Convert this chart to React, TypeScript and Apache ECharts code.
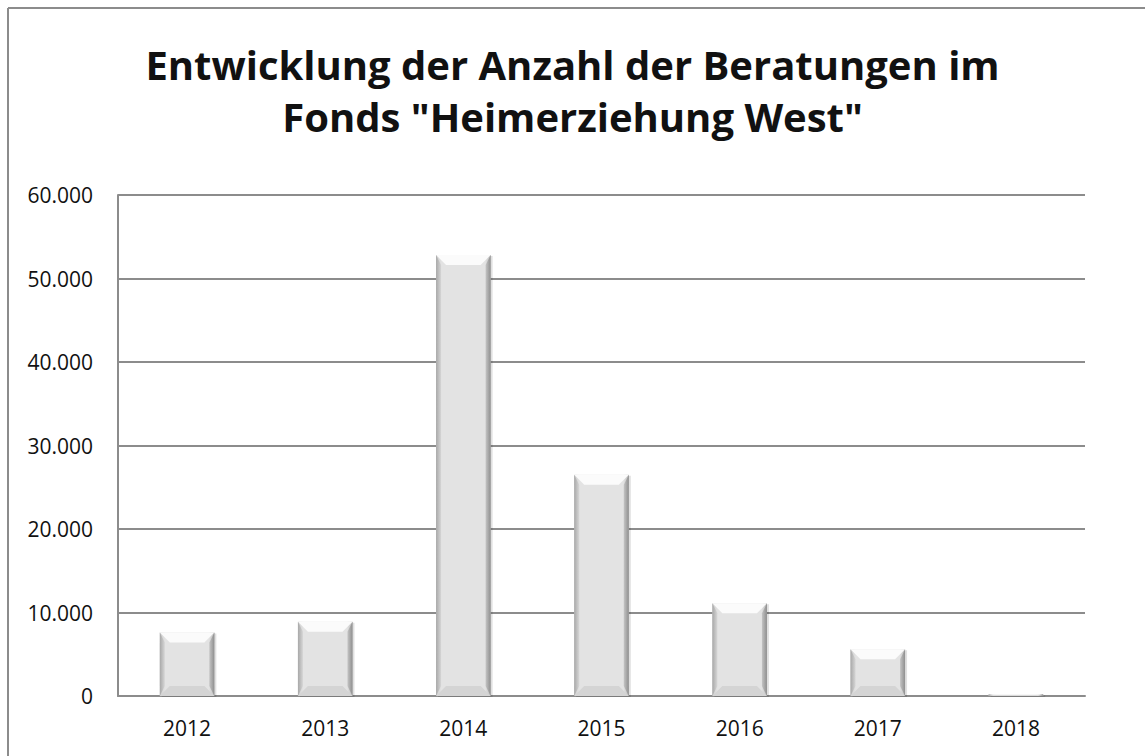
import React, { useEffect, useRef } from "react";
import * as echarts from "echarts";

const years = ["2012", "2013", "2014", "2015", "2016", "2017", "2018"];
const beratungen = [7600, 8900, 52800, 26500, 11100, 5600, 200];
const titleText = 'Entwicklung der Anzahl der Beratungen im\nFonds "Heimerziehung West"';

function fmt(v: number): string {
  return v === 0 ? "0" : (v / 1000).toFixed(0) + ".000";
}

export default function App() {
  const ref = useRef<HTMLDivElement>(null);
  useEffect(() => {
    if (!ref.current) return;
    const chart = echarts.init(ref.current, undefined, { renderer: "svg" });
    chart.setOption({
      animation: false,
      backgroundColor: "#ffffff",
      title: {
        text: titleText,
        left: "center",
        top: 33,
        textStyle: {
          fontFamily: "Open Sans",
          fontWeight: "bold",
          fontSize: 40,
          lineHeight: 52,
          color: "#111111",
        },
      },
      graphic: [
        {
          type: "line",
          shape: { x1: 8, y1: 8, x2: 1145, y2: 8 },
          style: { stroke: "#8c8c8c", lineWidth: 2 },
          silent: true,
        },
        {
          type: "line",
          shape: { x1: 8, y1: 8, x2: 8, y2: 756 },
          style: { stroke: "#8c8c8c", lineWidth: 2 },
          silent: true,
        },
      ],
      grid: { left: 118, right: 60, top: 195, bottom: 60, containLabel: false },
      xAxis: {
        type: "category",
        data: years,
        axisLine: { show: true, lineStyle: { color: "#8c8c8c", width: 2 } },
        axisTick: { show: false },
        axisLabel: { fontFamily: "Open Sans", fontSize: 21, color: "#111", margin: 21 },
      },
      yAxis: {
        type: "value",
        min: 0,
        max: 60000,
        interval: 10000,
        axisLine: { show: true, lineStyle: { color: "#8c8c8c", width: 2 } },
        axisTick: { show: false },
        splitLine: { lineStyle: { color: "#8c8c8c", width: 2 } },
        axisLabel: {
          fontFamily: "Open Sans",
          fontSize: 21,
          color: "#111",
          margin: 25,
          formatter: fmt,
        },
      },
      series: [
        {
          type: "custom",
          data: beratungen.map((v, i) => [i, v]),
          encode: { x: 0, y: 1 },
          renderItem: (params: any, api: any) => {
            const i = api.value(0);
            const v = api.value(1);
            const top = api.coord([i, v]);
            const bot = api.coord([i, 0]);
            const w = api.size([1, 0])[0] * 0.395;
            const x0 = top[0] - w / 2;
            const x1 = top[0] + w / 2;
            const y0 = top[1];
            const y1 = bot[1];
            const h = y1 - y0;
            const b = Math.min(10, h / 2);
            const s = Math.min(5, w / 4);
            return {
              type: "group",
              children: [
                {
                  type: "rect",
                  shape: { x: x0 + 2, y: y0 + 1, width: w, height: h },
                  style: { fill: "rgba(0,0,0,0.12)" },
                },
                {
                  type: "rect",
                  shape: { x: x0, y: y0, width: w, height: h },
                  style: {
                    fill: new echarts.graphic.LinearGradient(0, 0, 1, 0, [
                      { offset: 0, color: "#cfcfcf" },
                      { offset: 0.1, color: "#e3e3e3" },
                      { offset: 0.9, color: "#e3e3e3" },
                      { offset: 1, color: "#bdbdbd" },
                    ]),
                  },
                },
                {
                  type: "polygon",
                  shape: {
                    points: [
                      [x0, y0],
                      [x1, y0],
                      [x1 - s * 2, y0 + b],
                      [x0 + s * 2, y0 + b],
                    ],
                  },
                  style: { fill: "#fbfbfb" },
                },
                {
                  type: "polygon",
                  shape: {
                    points: [
                      [x0, y1],
                      [x1, y1],
                      [x1 - s * 2, y1 - b],
                      [x0 + s * 2, y1 - b],
                    ],
                  },
                  style: { fill: "#d4d4d4" },
                },
                {
                  type: "polygon",
                  shape: {
                    points: [
                      [x1, y0],
                      [x1, y1],
                      [x1 - s, y1 - b],
                      [x1 - s, y0 + b],
                    ],
                  },
                  style: {
                    fill: new echarts.graphic.LinearGradient(0, 0, 1, 0, [
                      { offset: 0, color: "#c4c4c4" },
                      { offset: 1, color: "#8f8f8f" },
                    ]),
                  },
                },
                {
                  type: "polygon",
                  shape: {
                    points: [
                      [x0, y0],
                      [x0, y1],
                      [x0 + s, y1 - b],
                      [x0 + s, y0 + b],
                    ],
                  },
                  style: {
                    fill: new echarts.graphic.LinearGradient(0, 0, 1, 0, [
                      { offset: 0, color: "#a8a8a8" },
                      { offset: 1, color: "#d6d6d6" },
                    ]),
                  },
                },
              ],
            };
          },
        },
      ],
    });
    return () => chart.dispose();
  }, []);
  return (
    <div
      ref={ref}
      style={{ position: "fixed", left: 0, top: 0, width: 1145, height: 756 }}
    />
  );
}
